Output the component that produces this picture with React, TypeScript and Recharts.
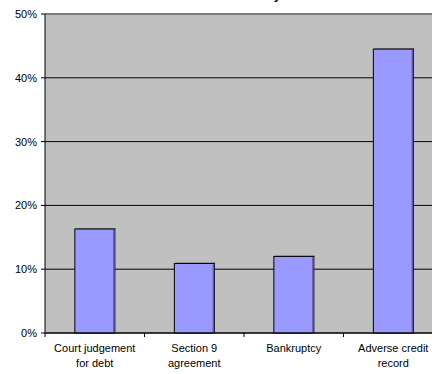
import React from 'react';
import {
  BarChart, Bar, XAxis, YAxis, CartesianGrid, ReferenceLine,
} from 'recharts';

const categories = ['Court judgement\nfor debt', 'Section 9\nagreement', 'Bankruptcy', 'Adverse credit\nrecord'];
const shares = [16.3, 10.9, 12.0, 44.5];
const yTicks = [0, 10, 20, 30, 40, 50];

const data = categories.map((name, i) => ({ name, share: shares[i] }));

const FONT = '"Liberation Sans", Arial, sans-serif';
const CHART_W = 450;
const CHART_H = 374;
const MARGIN = { top: 14, right: 7, bottom: 0, left: 0 };
const Y_AXIS_W = 45;
const BAND = (CHART_W - MARGIN.left - MARGIN.right - Y_AXIS_W) / categories.length;

// category label, plus the small tick marks that sit on the category edges
function CategoryTick(props: any) {
  const { x, y, payload, index } = props;
  const half = payload?.offset ? payload.offset : BAND / 2;
  const lines = String(payload.value).split('\n');
  return (
    <g>
      {index === 0 && <line x1={x - half} x2={x - half} y1={y} y2={y + 4} stroke="#000" />}
      <line x1={x + half} x2={x + half} y1={y} y2={y + 4} stroke="#000" />
      <text x={x} y={y + 19} textAnchor="middle" fontFamily={FONT} fontSize={11} fill="#000">
        {lines.map((l, i) => (
          <tspan key={i} x={x} dy={i === 0 ? 0 : 15}>{l}</tspan>
        ))}
      </text>
    </g>
  );
}

// flat bar with a thin darker shadow on its top and right edges
function ShadowBar(props: any) {
  const { x, y, width, height } = props;
  if (!height || height <= 0) return null;
  return (
    <g>
      <line x1={x + 1} x2={x + width + 1} y1={y - 0.5} y2={y - 0.5} stroke="#808080" />
      <rect x={x} y={y} width={width} height={height} fill="#9999FF" stroke="#000" strokeWidth={1} />
      <line x1={x + width - 1} x2={x + width - 1} y1={y + 1} y2={y + height} stroke="#5c5cb0" strokeWidth={1.5} />
    </g>
  );
}

export default function App() {
  return (
    <div style={{ position: 'absolute', left: 0, top: 0, width: 432, height: 374, overflow: 'hidden', background: '#fff' }}>
      <BarChart width={CHART_W} height={CHART_H} data={data} margin={MARGIN} barCategoryGap="30%">
        <text x={281} y={-1} textAnchor="end" fontFamily={FONT} fontSize={13} fontWeight="bold" fill="#000">
          Adverse credit history
        </text>
        <CartesianGrid vertical={false} stroke="#000" fill="#C0C0C0" fillOpacity={1} />
        <XAxis
          dataKey="name"
          axisLine={{ stroke: '#000' }}
          tickLine={false}
          tickSize={0}
          tickMargin={0}
          height={41}
          interval={0}
          tick={<CategoryTick />}
        />
        <YAxis
          domain={[0, 50]}
          ticks={yTicks}
          tickFormatter={(v) => `${v}%`}
          width={Y_AXIS_W}
          axisLine={{ stroke: '#000' }}
          tickLine={{ stroke: '#000' }}
          tickSize={4}
          tickMargin={4}
          tick={{ fontFamily: FONT, fontSize: 11, fill: '#000' }}
        />
        <ReferenceLine y={50} stroke="#808080" strokeWidth={1.5} />
        <Bar dataKey="share" shape={<ShadowBar />} isAnimationActive={false} />
      </BarChart>
    </div>
  );
}
